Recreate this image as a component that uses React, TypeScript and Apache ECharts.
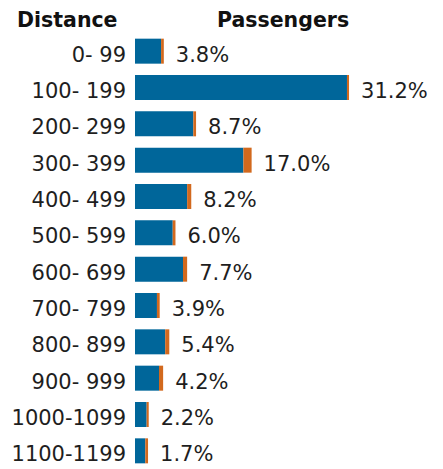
import React, { useEffect, useRef } from "react";
import * as echarts from "echarts";

const categories = [
  "0- 99", "100- 199", "200- 299", "300- 399", "400- 499", "500- 599",
  "600- 699", "700- 799", "800- 899", "900- 999", "1000-1099", "1100-1199",
];
const blueValues = [3.8, 30.9, 8.5, 15.8, 7.6, 5.5, 7.0, 3.2, 4.4, 3.5, 1.7, 1.5];
const orangeValues = [0.4, 0.3, 0.4, 1.2, 0.6, 0.4, 0.6, 0.4, 0.6, 0.6, 0.3, 0.4];
const percentLabels = ["3.8%", "31.2%", "8.7%", "17.0%", "8.2%", "6.0%", "7.7%", "3.9%", "5.4%", "4.2%", "2.2%", "1.7%"];

const FONT = "'DejaVu Sans', Verdana, sans-serif";

export default function App() {
  const ref = useRef<HTMLDivElement>(null);
  useEffect(() => {
    if (!ref.current) return;
    const chart = echarts.init(ref.current, null, { renderer: "svg" });
    chart.setOption({
      animation: false,
      backgroundColor: "#ffffff",
      grid: { left: 135, top: 33, width: 274.4, height: 438, containLabel: false },
      xAxis: { type: "value", min: 0, max: 40, show: false },
      yAxis: {
        type: "category",
        data: categories,
        inverse: true,
        axisLine: { show: false },
        axisTick: { show: false },
        axisLabel: { show: false },
      },
      graphic: [
        { type: "text", left: 17, top: 9, style: { text: "Distance", font: `bold 20.5px ${FONT}`, fill: "#111111" } },
        { type: "text", left: 217, top: 9, style: { text: "Passengers", font: `bold 20.5px ${FONT}`, fill: "#111111" } },
      ],
      series: [
        {
          type: "bar", stack: "t", data: blueValues, barWidth: 25,
          itemStyle: { color: "#00669a" }, silent: true,
          label: {
            show: true, position: "left", distance: 9, offset: [0, 3.5],
            formatter: (p: any) => p.name,
            fontSize: 21, color: "#1e1e1e", fontFamily: FONT,
          },
        },
        {
          type: "bar", stack: "t", data: orangeValues, barWidth: 25,
          itemStyle: { color: "#d2691e" }, silent: true,
          label: {
            show: true, position: "right", distance: 12, offset: [0, 3.5],
            formatter: (p: any) => percentLabels[p.dataIndex],
            fontSize: 21, color: "#1e1e1e", fontFamily: FONT,
          },
        },
      ],
    });
    return () => chart.dispose();
  }, []);
  return <div ref={ref} style={{ width: 443, height: 469, position: "absolute", left: 0, top: 0 }} />;
}
